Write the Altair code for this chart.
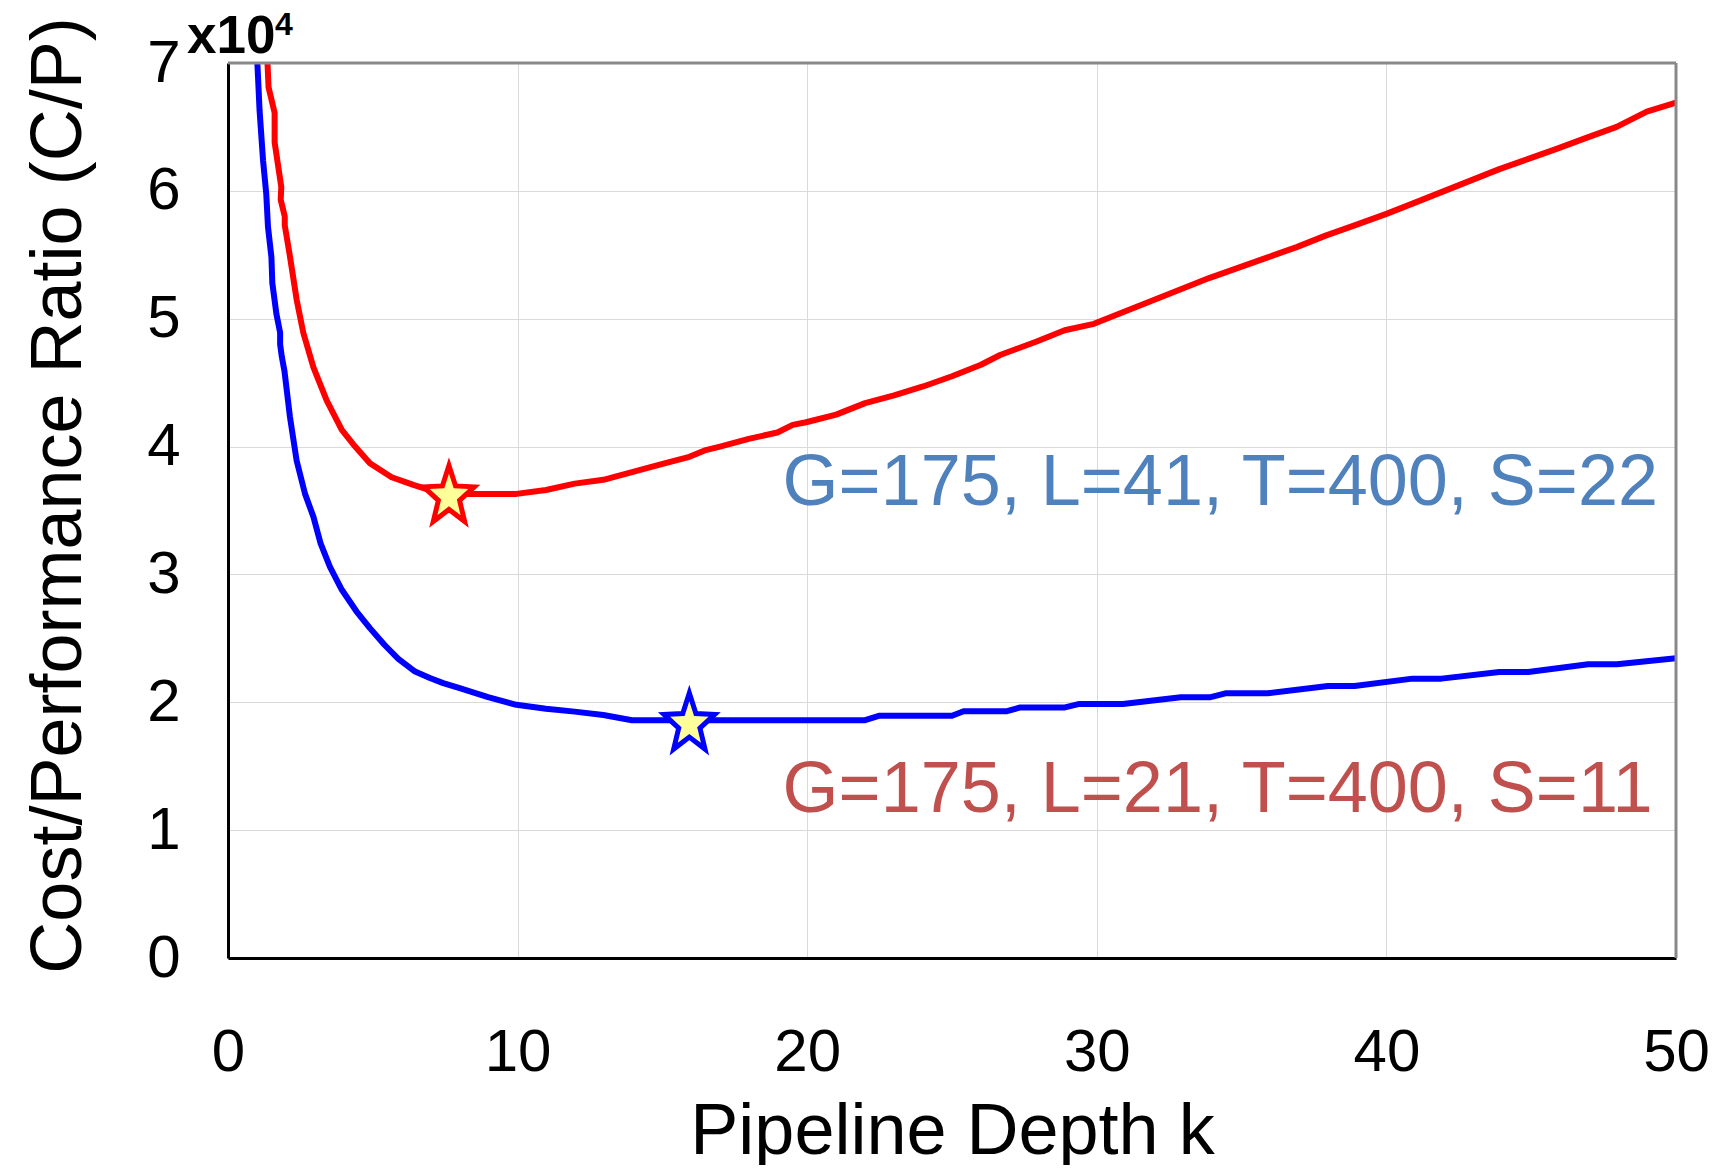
import altair as alt
import pandas as pd

# ---- data (C/P values in thousands) ----
red_k = [1.36, 1.40, 1.61, 1.61, 1.84, 1.82, 1.96, 1.96, 2.13, 2.37,
         2.60, 2.95, 3.41, 3.93, 4.39, 4.90, 5.65, 6.40, 6.97, 8.06,
         9.96, 10.98, 11.97, 12.96, 13.95, 14.94, 15.93, 16.46, 16.99, 17.98,
         18.97, 19.5, 19.96, 21.0, 22.0, 23.0, 24.0, 25.0, 26.0, 26.66,
         27.9, 28.89, 29.9, 30.9, 31.9, 32.9, 33.9, 34.9, 35.9, 36.9,
         37.9, 38.9, 40.0, 40.9, 41.9, 42.9, 43.9, 44.9, 45.9, 46.97,
         47.95, 48.99, 50.0]
red_v = [70.2, 68.1, 66.1, 63.8, 60.3, 59.3, 58.0, 57.3, 55.0, 51.5,
         48.9, 46.2, 43.6, 41.3, 40.0, 38.7, 37.6, 37.0, 36.6, 36.3,
         36.3, 36.6, 37.1, 37.4, 38.0, 38.6, 39.2, 39.7, 40.0, 40.6,
         41.1, 41.7, 41.9, 42.5, 43.4, 44.0, 44.7, 45.5, 46.4, 47.16,
         48.2, 49.1, 49.6, 50.5, 51.4, 52.3, 53.2, 54.0, 54.8, 55.6,
         56.5, 57.3, 58.2, 59.0, 59.9, 60.8, 61.7, 62.5, 63.3, 64.2,
         65.0, 66.2, 66.9]

blue_k = [1.01, 1.09, 1.21, 1.32, 1.38, 1.50, 1.53, 1.67, 1.80, 1.80,
          1.86, 1.95, 2.14, 2.37, 2.66, 2.95, 3.20, 3.52, 3.93, 4.44,
          4.90, 5.40, 5.88, 6.46, 6.97, 7.43, 8.00, 8.98, 9.96, 10.98,
          11.97, 12.96, 13.95, 22.0, 22.5, 25.0, 25.4, 26.9, 27.36, 28.9,
          29.4, 30.9, 32.9, 33.9, 34.44, 35.9, 37.98, 38.9, 40.9, 41.9,
          43.9, 44.9, 46.97, 47.96, 50.0]
blue_v = [70.2, 66.3, 62.4, 59.8, 57.2, 54.8, 52.8, 50.4, 48.9, 48.0,
          47.0, 45.9, 42.3, 38.9, 36.3, 34.5, 32.4, 30.6, 28.8, 27.1,
          25.8, 24.5, 23.4, 22.4, 21.9, 21.5, 21.1, 20.4, 19.8, 19.5,
          19.27, 19.0, 18.6, 18.6, 18.95, 18.95, 19.3, 19.3, 19.6, 19.6,
          19.87, 19.87, 20.39, 20.39, 20.7, 20.7, 21.27, 21.27, 21.85, 21.85,
          22.37, 22.37, 22.97, 22.97, 23.45]

star_series = ["red", "blue"]
star_k = [7.63, 15.93]
star_v = [36.1, 18.3]

x_ticks = [0, 10, 20, 30, 40, 50]
y_ticks = [0, 10000, 20000, 30000, 40000, 50000, 60000, 70000]

label_top = "G=175, L=41, T=400, S=22"
label_bottom = "G=175, L=21, T=400, S=11"

FONT = "Liberation Sans"

rows = []
for i, (k, v) in enumerate(zip(red_k, red_v)):
    rows.append({"series": "red", "k": k, "v": v * 1000, "idx": i})
for i, (k, v) in enumerate(zip(blue_k, blue_v)):
    rows.append({"series": "blue", "k": k, "v": v * 1000, "idx": i})
lines_df = pd.DataFrame(rows)

stars_df = pd.DataFrame({"series": star_series, "k": star_k,
                         "v": [v * 1000 for v in star_v]})

color_scale = alt.Scale(domain=["red", "blue"], range=["#FF0000", "#0000FF"])
x_scale = alt.Scale(domain=[0, 50], nice=False, zero=False)
y_scale = alt.Scale(domain=[0, 70000], nice=False)

x_axis = alt.Axis(values=x_ticks, title="Pipeline Depth k", titleFont=FONT,
                  titleFontSize=72, titleFontWeight="normal", titleColor="black",
                  titleY=195, titleBaseline="alphabetic",
                  labelFont=FONT, labelFontSize=60, labelColor="black",
                  labelPadding=112, labelBaseline="alphabetic", labelFlush=False,
                  ticks=False, tickSize=0, domainColor="black", domainWidth=3,
                  gridColor="#DADADA", gridWidth=1)
y_axis = alt.Axis(values=y_ticks, labelExpr="datum.value / 10000",
                  title="Cost/Performance Ratio (C/P)", titleFont=FONT,
                  titleFontSize=72, titleFontWeight="normal", titleColor="black",
                  titleAngle=270, titleX=-148, titleY=432, titleAlign="center",
                  titleBaseline="alphabetic",
                  labelFont=FONT, labelFontSize=60, labelColor="black",
                  labelPadding=48, labelFlush=False,
                  ticks=False, tickSize=0, domainColor="black", domainWidth=3,
                  gridColor="#DADADA", gridWidth=1)

base = alt.Chart(lines_df)

lines = base.mark_line(strokeWidth=6, clip=True, strokeJoin="round").encode(
    x=alt.X("k:Q", scale=x_scale, axis=x_axis),
    y=alt.Y("v:Q", scale=y_scale, axis=y_axis),
    color=alt.Color("series:N", scale=color_scale, legend=None),
    detail="series:N",
    order=alt.Order("idx:Q"),
)

star_path = ("M0,-1L0.212,-0.34L0.818,-0.309L0.343,0.13L0.506,0.809L0,0.42"
             "L-0.506,0.809L-0.343,0.13L-0.818,-0.309L-0.212,-0.34Z")
stars = alt.Chart(stars_df).mark_point(
    shape=star_path, size=3844, fill="#FFFF99", fillOpacity=1, opacity=1,
    strokeWidth=5, strokeJoin="miter"
).encode(
    x=alt.X("k:Q", scale=x_scale),
    y=alt.Y("v:Q", scale=y_scale),
    stroke=alt.Stroke("series:N", scale=color_scale, legend=None),
)

border_top = alt.Chart(pd.DataFrame({"a": [0]})).mark_rule(
    color="#888888", strokeWidth=3).encode(
    x=alt.datum(0, scale=x_scale), x2=alt.datum(50), y=alt.datum(70000, scale=y_scale))
border_right = alt.Chart(pd.DataFrame({"a": [0]})).mark_rule(
    color="#888888", strokeWidth=3).encode(
    x=alt.datum(50, scale=x_scale), y=alt.datum(0, scale=y_scale), y2=alt.datum(70000))

ann_top = alt.Chart(pd.DataFrame({"t": [label_top]})).mark_text(
    font=FONT, fontSize=72, color="#4F81BD", align="left", baseline="alphabetic"
).encode(x=alt.datum(19.15, scale=x_scale), y=alt.datum(35430, scale=y_scale), text="t:N")

ann_bottom = alt.Chart(pd.DataFrame({"t": [label_bottom]})).mark_text(
    font=FONT, fontSize=72, color="#C0504D", align="left", baseline="alphabetic"
).encode(x=alt.datum(19.15, scale=x_scale), y=alt.datum(11420, scale=y_scale), text="t:N")

exp_base = alt.Chart(pd.DataFrame({"t": ["x10"]})).mark_text(
    font=FONT, fontSize=53, fontWeight="bold", color="black",
    align="left", baseline="alphabetic"
).encode(x=alt.value(-41), y=alt.value(-10), text="t:N")
exp_sup = alt.Chart(pd.DataFrame({"t": ["4"]})).mark_text(
    font=FONT, fontSize=32, fontWeight="bold", color="black",
    align="left", baseline="alphabetic"
).encode(x=alt.value(47), y=alt.value(-28), text="t:N")

chart = alt.layer(
    lines, stars, border_top, border_right, ann_top, ann_bottom, exp_base, exp_sup
).properties(
    width=1448, height=895,
    autosize=alt.AutoSizeParams(type="none"),
    padding={"left": 220, "top": 55, "right": 32, "bottom": 207},
    background="white",
).configure_view(stroke=None)

chart.save("out.html", embed_options={"renderer": "svg", "actions": False})
